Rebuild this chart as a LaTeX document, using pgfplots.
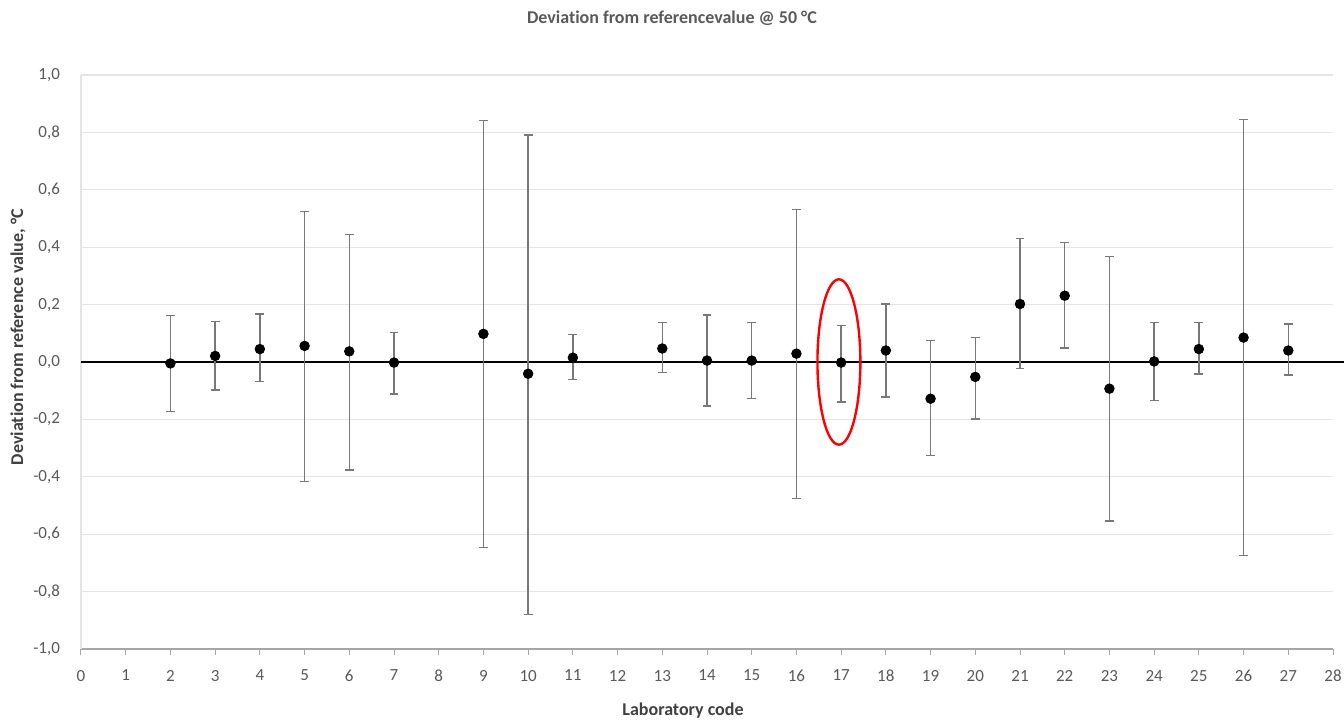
\documentclass[border=0pt]{standalone}
\usepackage{fontspec}
\setmainfont[RawFeature={-liga;-dlig;-calt}]{Carlito}
\usepackage{pgfplots}
\pgfplotsset{compat=1.18}
\definecolor{ticktxt}{HTML}{595959}
\definecolor{labtxt}{HTML}{404040}
\definecolor{gridc}{HTML}{E4E4E4}
\definecolor{barc}{HTML}{787878}

% lab, deviation, error plus, error minus
\pgfplotstableread{
x  y      ep     em
2  -0.005 0.167  0.167
3  0.021  0.121  0.119
4  0.045  0.122  0.113
5  0.056  0.468  0.473
6  0.037  0.408  0.413
7  -0.002 0.104  0.110
9  0.098  0.743  0.745
10 -0.041 0.832  0.840
11 0.015  0.081  0.077
13 0.047  0.090  0.084
14 0.005  0.159  0.158
15 0.005  0.133  0.133
16 0.029  0.502  0.504
17 -0.002 0.130  0.137
18 0.040  0.162  0.162
19 -0.128 0.203  0.199
20 -0.052 0.138  0.147
21 0.202  0.228  0.224
22 0.231  0.186  0.182
23 -0.093 0.461  0.461
24 0.002  0.136  0.135
25 0.045  0.093  0.087
26 0.085  0.759  0.759
27 0.040  0.092  0.085
}\labdata

\begin{document}
\begin{tikzpicture}
\useasboundingbox (-40.5pt,-36pt) rectangle (631.5pt,324.5pt);
\begin{axis}[
  at={(0,0)}, anchor=south west,
  scale only axis, width=626pt, height=287pt,
  xmin=0, xmax=28, ymin=-1, ymax=1,
  axis x line=bottom, axis y line=left,
  axis line style={-, draw=gridc, line width=0.6pt},
  x axis line style={draw=gray!70},
  xtick={0,1,...,28},
  ytick={-1,-0.8,...,1.0},
  yticklabels={{-1,0},{-0,8},{-0,6},{-0,4},{-0,2},{0,0},{0,2},{0,4},{0,6},{0,8},{1,0}},
  xtick style={draw=gray!70, line width=0.5pt},
  ytick style={draw=none},
  tick align=outside, major tick length=3pt,
  ymajorgrids, grid style={draw=gridc, line width=0.6pt},
  tick label style={font=\fontsize{8.5}{10}\selectfont, text=ticktxt},
  /pgf/number format/assume math mode=true,
  xticklabel style={yshift=-4pt},
  yticklabel style={xshift=-4pt},
  clip=false,
]
\addplot[black, line width=1.1pt] coordinates {(0,0) (28.3,0)};
\addplot[only marks, mark=*, mark size=2.4pt, black,
  error bars/.cd, y dir=both, y explicit,
  error bar style={barc, line width=0.65pt},
  error mark options={rotate=90, mark size=2.2pt, barc, line width=0.65pt}]
  table[x=x, y=y, y error plus=ep, y error minus=em] {\labdata};
\draw[red, line width=1.2pt] (axis cs:16.95,0) ellipse [x radius=0.48, y radius=0.288];
\end{axis}
\node[text=ticktxt, font=\bfseries\fontsize{9}{11}\selectfont] at (295.5pt,315.5pt) {Deviation from referencevalue @ 50 °C};
\node[text=labtxt, font=\bfseries\fontsize{9}{11}\selectfont, rotate=90] at (-31.5pt,156pt) {Deviation from reference value, °C};
\node[text=labtxt, font=\bfseries\fontsize{9}{11}\selectfont] at (301pt,-31pt) {Laboratory code};
\end{tikzpicture}
\end{document}
